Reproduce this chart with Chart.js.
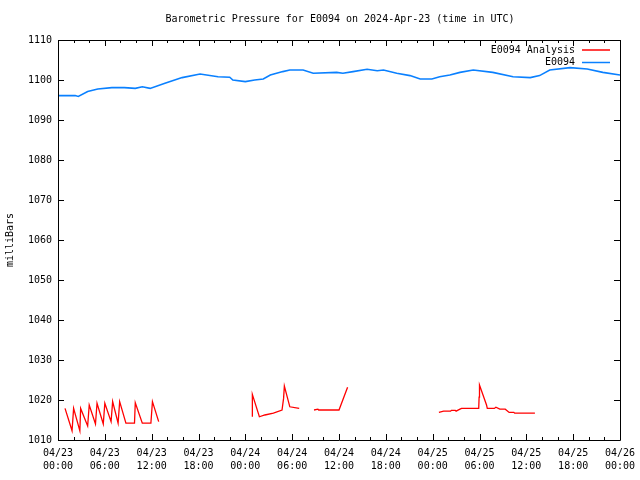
<!DOCTYPE html>
<html lang="en">
<head>
  <meta charset="UTF-8" />
  <title>Barometric Pressure E0094</title>
  <script src="https://cdn.jsdelivr.net/npm/chart.js"></script>
  <style>
    body { margin: 0; background: #fff; }
    canvas { display: block; }
  </style>
</head>
<body>
  <canvas id="pressChart" width="640" height="480"></canvas>

  <script>
    // hours since 04/23 00:00 UTC
    const stationHours = [0, 2.2, 2.6, 3.8, 5.1, 6.9, 8.5, 9.9, 10.8, 11.8, 13.7, 15.9, 18.2, 20.5, 22, 22.4, 24, 25.2,
      26.3, 27.2, 28.8, 29.7, 31.4, 32.7, 35.7, 36.5, 37.8, 39.6, 40.9, 41.7, 43.4, 45.1, 46.4, 47.9, 48.9, 50.2,
      51.5, 53.2, 55.7, 58.3, 60.5, 61.7, 63, 65.6, 67.8, 69.8, 72];
    const stationPressure = [1096.1, 1096.1, 1095.9, 1097.1, 1097.75, 1098.1, 1098.1, 1097.9, 1098.3, 1097.9, 1099.2, 1100.6, 1101.5, 1100.8, 1100.7, 1100.0, 1099.6, 1100.0,
      1100.25, 1101.25, 1102.1, 1102.5, 1102.5, 1101.7, 1101.9, 1101.7, 1102.1, 1102.7, 1102.3, 1102.5, 1101.7, 1101.1, 1100.25, 1100.25, 1100.8, 1101.25,
      1101.9, 1102.5, 1101.9, 1100.8, 1100.6, 1101.1, 1102.5, 1103.1, 1102.75, 1101.9, 1101.25];

    const analysisHours = [0.9, 1.8, 2.0, 2.8, 2.9, 3.8, 4.0, 4.8, 5.0, 5.8, 6.0, 6.8, 7.0, 7.7, 7.9, 8.7, 9.8, 9.9, 10.8, 11.9, 12.1, 12.9,
      18,
      24.9, 24.9, 25.8, 26.5, 27.6, 28.7, 28.9, 29.0, 29.7, 30.9,
      32,
      32.8, 33.3, 33.4, 36.0, 37.1,
      43,
      48.8, 49.4, 50.3, 50.4, 50.9, 51.0, 51.5, 51.7, 53.9, 53.95, 54.0, 54.9, 55.0, 55.9, 56.1, 56.6, 57.3, 57.8, 58.4, 58.5, 61.1];
    const analysisPressure = [1017.9, 1012.3, 1017.9, 1012.3, 1017.9, 1013.5, 1018.75, 1014.0, 1019.2, 1014.0, 1019.2, 1014.6, 1019.6, 1014.2, 1019.6, 1014.2, 1014.2, 1019.3, 1014.2, 1014.2, 1019.6, 1014.6,
      null,
      1015.8, 1021.4, 1015.8, 1016.25, 1016.7, 1017.5, 1020.4, 1023.5, 1018.3, 1017.9,
      null,
      1017.5, 1017.7, 1017.5, 1017.5, 1023.2,
      null,
      1016.9, 1017.2, 1017.2, 1017.4, 1017.4, 1017.2, 1017.7, 1017.9, 1017.9, 1020.7, 1023.75, 1018.75, 1017.9, 1017.9, 1018.2, 1017.7, 1017.7, 1016.9, 1016.9, 1016.7, 1016.7];

    const dayLabels = ['04/23', '04/24', '04/25', '04/26'];
    const titleText = 'Barometric Pressure for E0094 on 2024-Apr-23 (time in UTC)';
    const yTitle = 'milliBars';

    const FONT = '"DejaVu Sans Mono", "Liberation Mono", monospace';

    function toPoints(xs, ys) {
      return xs.map((x, i) => ({ x: x, y: ys[i] }));
    }

    // gnuplot-style frame, inward ticks, title, y label and legend
    const gnuFrame = {
      id: 'gnuFrame',
      afterDraw(chart) {
        const ctx = chart.ctx;
        const a = chart.chartArea;
        const xs = chart.scales.x, ys = chart.scales.y;
        ctx.save();
        ctx.strokeStyle = '#000';
        ctx.lineWidth = 1;
        ctx.beginPath();
        ctx.rect(Math.round(a.left) + 0.5, Math.round(a.top) + 0.5, Math.round(a.right - a.left), Math.round(a.bottom - a.top));
        // x ticks: major every 6h, minor every 2h
        for (let h = 0; h <= 72; h += 2) {
          const px = Math.round(xs.getPixelForValue(h)) + 0.5;
          const len = h % 6 === 0 ? 6 : 3;
          ctx.moveTo(px, a.bottom); ctx.lineTo(px, a.bottom - len);
          ctx.moveTo(px, a.top); ctx.lineTo(px, a.top + len);
        }
        for (let v = 1010; v <= 1110; v += 10) {
          const py = Math.round(ys.getPixelForValue(v)) + 0.5;
          ctx.moveTo(a.left, py); ctx.lineTo(a.left + 6, py);
          ctx.moveTo(a.right, py); ctx.lineTo(a.right - 6, py);
        }
        ctx.stroke();

        ctx.fillStyle = '#000';
        ctx.font = '10px ' + FONT;
        ctx.textAlign = 'center';
        ctx.textBaseline = 'middle';
        ctx.fillText(titleText, 340, 19);

        ctx.save();
        ctx.translate(10, 240);
        ctx.rotate(-Math.PI / 2);
        ctx.fillText(yTitle, 0, 0);
        ctx.restore();

        // legend
        const sets = chart.data.datasets;
        sets.forEach((ds, i) => {
          const y = 50 + i * 12.5;
          ctx.textAlign = 'right';
          ctx.fillStyle = '#000';
          ctx.fillText(ds.label, 575, y);
          ctx.strokeStyle = ds.borderColor;
          ctx.lineWidth = 1.5;
          ctx.beginPath();
          ctx.moveTo(582, y);
          ctx.lineTo(610, y);
          ctx.stroke();
        });
        ctx.restore();
      }
    };

    new Chart(document.getElementById('pressChart'), {
      type: 'line',
      data: {
        datasets: [
          {
            label: 'E0094 Analysis',
            data: toPoints(analysisHours, analysisPressure),
            borderColor: '#ff0000',
            borderWidth: 1.3,
            pointRadius: 0,
            tension: 0,
            spanGaps: false
          },
          {
            label: 'E0094',
            data: toPoints(stationHours, stationPressure),
            borderColor: '#0a80ff',
            borderWidth: 1.6,
            pointRadius: 0,
            tension: 0
          }
        ]
      },
      options: {
        responsive: false,
        animation: false,
        devicePixelRatio: 1,
        layout: { padding: { top: 40, right: 20, left: 0, bottom: 0 } },
        plugins: {
          legend: { display: false },
          title: { display: false },
          tooltip: { enabled: false }
        },
        scales: {
          x: {
            type: 'linear',
            min: 0,
            max: 72,
            grid: { display: false, drawTicks: false },
            border: { display: false },
            afterFit: s => { s.height = 40; s.paddingRight = 0; },
            ticks: {
              stepSize: 6,
              autoSkip: false,
              maxRotation: 0,
              padding: 7,
              color: '#000',
              font: { family: FONT, size: 10, lineHeight: 1.3 },
              callback: v => {
                const d = dayLabels[Math.floor(v / 24)];
                const hh = String(v % 24).padStart(2, '0');
                return [d, hh + ':00'];
              }
            }
          },
          y: {
            min: 1010,
            max: 1110,
            grid: { display: false, drawTicks: false },
            border: { display: false },
            afterFit: s => { s.width = 58; },
            ticks: {
              stepSize: 10,
              padding: 6,
              color: '#000',
              font: { family: FONT, size: 10 },
              callback: v => String(v)
            }
          }
        }
      },
      plugins: [gnuFrame]
    });
  </script>
</body>
</html>
